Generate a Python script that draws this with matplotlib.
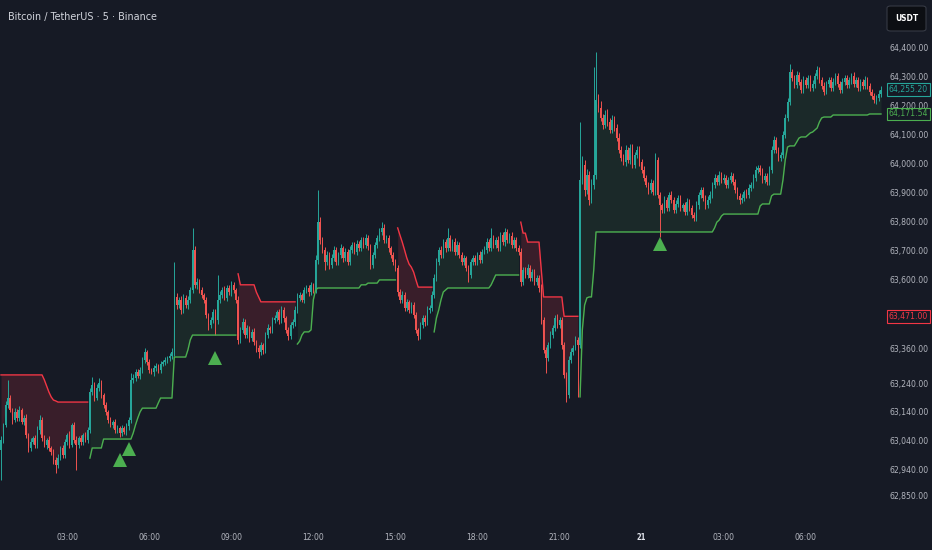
import numpy as np
import pandas as pd
import matplotlib
matplotlib.use("Agg")
import matplotlib.pyplot as plt
from matplotlib import font_manager as fm
from matplotlib.patches import FancyBboxPatch
import matplotlib.transforms as mtransforms

# ---------------- data ----------------
title = "Bitcoin / TetherUS · 5 · Binance"
currency = "USDT"
start_time = "2024-06-20 00:35"
first_open = 63008.0

closes = [
    63043, 63095, 63164, 63188, 63147, 63112, 63140, 63119, 63147, 63105, 63119, 63060, 63015, 63036, 63050, 63025, 63077, 63112, 63050, 63025,
    63043, 63015, 63001, 62974, 62956, 62980, 63015, 62991, 63036, 63060, 63025, 63095, 63043, 63025, 63050, 63036, 63060, 63043, 63077, 63209,
    63233, 63188, 63223, 63240, 63199, 63164, 63140, 63112, 63095, 63105, 63077, 63084, 63067, 63084, 63070, 63091, 63112, 63251, 63258, 63278,
    63265, 63285, 63320, 63348, 63313, 63285, 63278, 63292, 63299, 63285, 63306, 63313, 63320, 63327, 63334, 63348, 63538, 63510, 63528, 63493,
    63535, 63510, 63528, 63562, 63701, 63580, 63590, 63562, 63545, 63528, 63476, 63441, 63458, 63486, 63458, 63528, 63545, 63562, 63535, 63569,
    63555, 63580, 63562, 63528, 63389, 63424, 63451, 63406, 63430, 63396, 63417, 63382, 63362, 63348, 63372, 63355, 63406, 63430, 63424, 63458,
    63465, 63486, 63458, 63493, 63465, 63424, 63403, 63441, 63451, 63493, 63535, 63545, 63528, 63562, 63569, 63555, 63580, 63562, 63666, 63797,
    63735, 63701, 63659, 63683, 63649, 63673, 63701, 63659, 63683, 63707, 63673, 63694, 63659, 63701, 63718, 63694, 63721, 63707, 63735, 63718,
    63742, 63714, 63649, 63683, 63718, 63742, 63763, 63777, 63735, 63742, 63707, 63683, 63659, 63638, 63555, 63528, 63545, 63500, 63521, 63493,
    63510, 63476, 63424, 63403, 63441, 63465, 63451, 63493, 63500, 63545, 63604, 63659, 63701, 63683, 63728, 63707, 63742, 63707, 63728, 63694,
    63718, 63683, 63659, 63673, 63638, 63614, 63659, 63673, 63659, 63683, 63666, 63694, 63701, 63728, 63707, 63742, 63718, 63735, 63707, 63752,
    63728, 63763, 63735, 63749, 63718, 63735, 63707, 63694, 63590, 63631, 63614, 63638, 63604, 63624, 63590, 63604, 63569, 63458, 63355, 63327,
    63372, 63406, 63430, 63465, 63441, 63458, 63372, 63268, 63199, 63320, 63348, 63362, 63389, 63372, 63943, 63995, 63908, 63960, 63874, 63926,
    63960, 64220, 64192, 64158, 64133, 64168, 64144, 64116, 64151, 64123, 64088, 64047, 64019, 64005, 64047, 64012, 64054, 63995, 64029, 64047,
    64005, 63978, 63950, 63926, 63908, 63933, 63901, 64012, 63891, 63856, 63839, 63874, 63846, 63891, 63874, 63839, 63860, 63881, 63846, 63856,
    63832, 63867, 63846, 63822, 63811, 63856, 63891, 63908, 63881, 63856, 63874, 63891, 63926, 63950, 63936, 63960, 63943, 63950, 63926, 63943,
    63957, 63936, 63908, 63888, 63874, 63881, 63901, 63891, 63915, 63926, 63950, 63978, 63985, 63971, 63943, 63957, 63936, 63978, 64047, 64081,
    64047, 64019, 64029, 64099, 64158, 64213, 64317, 64296, 64272, 64307, 64282, 64255, 64289, 64272, 64296, 64262, 64275, 64303, 64324, 64289,
    64268, 64248, 64275, 64289, 64262, 64282, 64303, 64275, 64255, 64282, 64296, 64272, 64289, 64303, 64275, 64289, 64262, 64282, 64268, 64289,
    64268, 64248, 64234, 64220, 64227, 64241, 64255.2,
]

upper_wick = [
    12, 8, 15, 63, 10, 6, 14, 9, 12, 7, 10, 15, 8, 12, 6, 10, 14, 17, 9, 11,
    8, 12, 6, 10, 9, 14, 7, 11, 10, 8, 13, 6, 9, 12, 8, 10, 7, 11, 9, 14,
    28, 10, 12, 18, 9, 7, 11, 8, 10, 6, 9, 12, 7, 10, 8, 11, 9, 24, 12, 10,
    9, 12, 11, 14, 8, 10, 7, 9, 12, 6, 10, 8, 9, 7, 11, 12, 121, 15, 10, 12,
    14, 9, 12, 10, 76, 15, 12, 9, 11, 8, 10, 7, 12, 9, 10, 86, 12, 10, 14, 9,
    11, 13, 9, 8, 12, 10, 14, 9, 11, 7, 10, 12, 8, 9, 11, 7, 10, 13, 9, 12,
    10, 8, 12, 14, 9, 7, 10, 11, 9, 12, 15, 10, 8, 12, 9, 11, 10, 8, 16, 111,
    18, 12, 9, 14, 10, 12, 15, 9, 11, 13, 8, 12, 10, 14, 9, 11, 13, 10, 12, 9,
    14, 10, 8, 12, 11, 10, 13, 20, 12, 9, 10, 8, 11, 9, 12, 10, 14, 9, 11, 8,
    10, 12, 9, 8, 11, 10, 9, 12, 10, 14, 12, 15, 10, 13, 11, 9, 35, 12, 10, 14,
    12, 9, 11, 10, 8, 9, 12, 10, 11, 9, 13, 10, 12, 14, 11, 35, 12, 10, 13, 11,
    12, 14, 10, 11, 13, 9, 12, 10, 15, 12, 10, 13, 9, 11, 12, 10, 9, 14, 12, 10,
    11, 14, 12, 10, 13, 9, 12, 10, 11, 14, 12, 10, 13, 12, 201, 30, 18, 22, 15, 20,
    374, 166, 20, 25, 15, 18, 22, 14, 16, 12, 15, 18, 12, 14, 16, 11, 13, 15, 12, 14,
    12, 10, 14, 11, 9, 13, 10, 25, 12, 10, 9, 12, 11, 10, 13, 9, 12, 10, 11, 9,
    10, 12, 9, 11, 10, 13, 12, 10, 11, 9, 12, 14, 10, 12, 11, 13, 10, 12, 9, 11,
    12, 10, 9, 11, 10, 12, 9, 11, 13, 10, 12, 14, 11, 10, 12, 9, 11, 13, 15, 14,
    12, 10, 11, 14, 12, 15, 28, 12, 10, 14, 11, 9, 13, 10, 12, 11, 14, 10, 12, 9,
    11, 13, 10, 12, 9, 14, 11, 10, 12, 13, 10, 9, 12, 11, 14, 10, 12, 9, 11, 13,
    10, 12, 9, 11, 10, 12, 14,
]

lower_wick = [
    104, 10, 8, 12, 9, 14, 7, 11, 10, 8, 12, 9, 14, 10, 8, 11, 9, 12, 10, 8,
    12, 9, 11, 14, 28, 10, 8, 12, 9, 11, 10, 8, 12, 86, 9, 11, 10, 8, 12, 10,
    9, 11, 8, 10, 12, 9, 11, 10, 8, 12, 10, 9, 14, 11, 8, 10, 12, 9, 11, 10,
    8, 10, 12, 9, 11, 10, 8, 12, 9, 10, 11, 8, 10, 9, 12, 10, 14, 12, 10, 15,
    12, 10, 14, 11, 12, 10, 13, 9, 11, 12, 10, 17, 12, 10, 52, 12, 10, 11, 9, 12,
    10, 12, 9, 11, 14, 10, 12, 9, 11, 13, 10, 12, 14, 21, 11, 13, 10, 9, 12, 10,
    11, 9, 12, 10, 13, 11, 14, 10, 9, 12, 10, 11, 9, 12, 10, 13, 9, 11, 12, 14,
    12, 10, 28, 11, 13, 10, 9, 12, 11, 10, 13, 9, 12, 10, 11, 9, 12, 10, 11, 9,
    10, 12, 14, 11, 9, 10, 12, 9, 11, 10, 12, 9, 11, 10, 13, 12, 10, 11, 9, 12,
    10, 11, 12, 14, 10, 9, 12, 11, 10, 9, 12, 10, 9, 11, 10, 12, 9, 11, 10, 12,
    11, 9, 12, 10, 11, 24, 10, 12, 9, 11, 10, 12, 9, 10, 11, 9, 12, 10, 11, 9,
    10, 12, 9, 11, 10, 12, 9, 11, 13, 10, 12, 9, 11, 10, 12, 9, 14, 12, 10, 52,
    12, 10, 11, 9, 12, 10, 14, 12, 25, 10, 12, 11, 9, 180, 12, 15, 20, 14, 18, 12,
    15, 12, 14, 10, 12, 11, 13, 10, 12, 11, 9, 12, 10, 11, 13, 10, 12, 9, 11, 10,
    12, 10, 11, 9, 12, 10, 11, 9, 12, 111, 10, 12, 9, 11, 10, 12, 9, 11, 10, 12,
    11, 9, 12, 10, 11, 9, 12, 10, 11, 13, 10, 12, 9, 11, 10, 12, 9, 11, 10, 12,
    10, 12, 9, 11, 13, 10, 12, 9, 11, 10, 12, 9, 11, 10, 12, 9, 11, 10, 12, 11,
    10, 12, 9, 11, 10, 12, 9, 11, 10, 12, 9, 11, 10, 12, 9, 11, 10, 12, 9, 11,
    10, 12, 9, 11, 10, 12, 9, 11, 10, 12, 9, 11, 10, 12, 9, 11, 10, 12, 9, 11,
    10, 12, 9, 11, 14, 10, 12,
]

# trailing stop line: (level, number of bars)
stop_levels = [
    63268, 63251, 63230, 63209, 63192, 63181, 63178, 63174,
    62980, 63015, 63046, 63067, 63095, 63119, 63140, 63153, 63171, 63188, 63330, 63355, 63389, 63406,
    63618, 63580, 63555, 63538, 63521,
    63375, 63385, 63406, 63417, 63424, 63528, 63562, 63569, 63580, 63586, 63597,
    63777, 63752, 63728, 63701, 63673, 63652, 63641, 63624, 63597, 63572,
    63417, 63465, 63493, 63528, 63555, 63562, 63569, 63580, 63597, 63614,
    63797, 63759, 63728, 63631, 63538, 63471,
    63192, 63424, 63510, 63535, 63538, 63631, 63763, 63777, 63797, 63804, 63818, 63825, 63853, 63860,
    63888, 63894, 63943, 64012, 64057, 64061, 64074, 64088, 64092, 64099, 64106, 64109, 64116, 64123,
    64144, 64158, 64161, 64168, 64171.54,
]
stop_counts = [
    19, 1, 1, 1, 1, 1, 1, 14,
    1, 5, 13, 1, 1, 1, 1, 7, 1, 6, 6, 1, 1, 20,
    1, 7, 1, 1, 16,
    1, 1, 1, 3, 1, 1, 1, 19, 3, 5, 8,
    1, 1, 1, 1, 1, 1, 1, 1, 1, 7,
    1, 1, 1, 1, 1, 1, 19, 1, 1, 11,
    1, 2, 6, 1, 9, 7,
    1, 1, 1, 1, 2, 1, 52, 1, 1, 1, 1, 16, 1, 4,
    1, 4, 1, 1, 1, 3, 1, 1, 3, 1, 1, 1, 1, 1,
    1, 1, 4, 16, 6,
]
trend_dirs = [-1, 1, -1, 1, -1, 1, -1, 1]
trend_counts = [39, 65, 26, 44, 16, 38, 26, 133]

signal_bars = [52, 56, 94, 289]
signal_prices = [62974, 63012, 63327, 63721]

price_ticks = [64400, 64300, 64200, 64100, 64000, 63900, 63800, 63700, 63600,
               63360, 63240, 63140, 63040, 62940, 62850]
last_price = 64255.20
long_stop_label = 64171.54
short_stop_label = 63471.00

# ---------------- derived ----------------
closes = np.array(closes, dtype=float)
n = len(closes)
opens = np.concatenate([[first_open], closes[:-1]])
highs = np.maximum(opens, closes) + np.array(upper_wick, dtype=float)
lows = np.minimum(opens, closes) - np.array(lower_wick, dtype=float)
stop = np.repeat(np.array(stop_levels, dtype=float), stop_counts)
x = np.arange(n)
times = pd.date_range(start_time, periods=n, freq="5min")

BG = "#161a25"
UP = "#26a69a"
DOWN = "#ef5350"
RED_LINE = "#f23645"
GREEN_LINE = "#4caf50"
TXT = "#b2b5be"

W, H = 932, 550
fig = plt.figure(figsize=(W / 100, H / 100), dpi=100, facecolor=BG)
ax = fig.add_axes([0, 32 / H, 886 / W, 518 / H], facecolor=BG)


# ---- narrow font selection (TradingView UI font is condensed) ----
def pick_font():
    fl = fm.fontManager.ttflist
    names = {f.name for f in fl}
    if "Liberation Sans Narrow" in names:
        return {"family": "Liberation Sans Narrow"}
    if any(f.name == "DejaVu Sans" and "condensed" in f.fname.lower() for f in fl):
        return {"family": "DejaVu Sans", "stretch": "condensed"}
    if "Liberation Sans" in names:
        return {"family": "Liberation Sans"}
    return {"family": "DejaVu Sans"}


FONT = pick_font()
renderer = fig.canvas.get_renderer()


def fitted(text, target_px, weight="normal", cap=10.0):
    probe = fig.text(0, 0, text, fontproperties=fm.FontProperties(size=10, weight=weight, **FONT))
    w = probe.get_window_extent(renderer).width
    probe.remove()
    return fm.FontProperties(size=min(cap, 10 * target_px / w), weight=weight, **FONT)


fp_price = fitted("64,400.00", 39.5)
fp_time = fitted("03:00", 22)
fp_day = fitted("21", 9.5, weight="bold")
fp_title = fitted(title, 150)
fp_btn = fitted(currency, 23, weight="bold")

# fills and stop line
start = 0
for d, c in zip(trend_dirs, trend_counts):
    sl = slice(start, start + c)
    col = GREEN_LINE if d > 0 else RED_LINE
    ax.fill_between(x[sl], stop[sl], closes[sl], color=col,
                    alpha=0.10 if d > 0 else 0.16, linewidth=0, zorder=1)
    ax.plot(x[sl], stop[sl], color=col, linewidth=1.0, zorder=4)
    start += c

# candles
up = closes >= opens
colors = np.where(up, UP, DOWN)
ax.vlines(x, lows, highs, colors=colors, linewidth=0.7, zorder=2)
body_h = np.maximum(np.abs(closes - opens), 2.0)
ax.bar(x, body_h, bottom=np.minimum(opens, closes), width=0.66,
       color=colors, linewidth=0, zorder=3)

# buy signals
ax.plot(signal_bars, signal_prices, linestyle="none", marker="^",
        markersize=9.5, color=GREEN_LINE, markeredgewidth=0, zorder=5)

ax.set_xlim(-0.44, 388.2)
ax.set_ylim(62772.6, 64566.2)

for s in ax.spines.values():
    s.set_visible(False)

# y axis on right
ax.yaxis.tick_right()
ax.set_yticks(price_ticks)
ax.set_yticklabels([f"{v:,.2f}" for v in price_ticks])
ax.tick_params(axis="y", length=0, pad=2.5, labelcolor=TXT)
for t in ax.get_yticklabels():
    t.set_fontproperties(fp_price)

# x axis: every 3 hours
tick_idx = [i for i, t in enumerate(times) if t.minute == 0 and t.hour % 3 == 0]
tick_lab = [str(times[i].day) if times[i].hour == 0 else times[i].strftime("%H:%M")
            for i in tick_idx]
ax.set_xticks(tick_idx)
ax.set_xticklabels(tick_lab)
ax.tick_params(axis="x", length=0, pad=10.5, labelcolor=TXT)
for t, lab in zip(ax.get_xticklabels(), tick_lab):
    if lab.isdigit():
        t.set_fontproperties(fp_day)
        t.set_color("#e0e3eb")
    else:
        t.set_fontproperties(fp_time)

# price label boxes on the axis
trans = mtransforms.blended_transform_factory(fig.transFigure, ax.transData)
for val, col in [(last_price, UP), (long_stop_label, GREEN_LINE), (short_stop_label, RED_LINE)]:
    fig.text(888.5 / W, val, f"{val:,.2f}", transform=trans, ha="left", va="center",
             fontproperties=fp_price, color=col, zorder=10,
             bbox=dict(boxstyle="square,pad=0.22", facecolor=BG, edgecolor=col, linewidth=0.8))

# title
fig.text(8 / W, 1 - 17 / H, title, color="#d1d4dc", fontproperties=fp_title,
         ha="left", va="center")

# currency button
btn = FancyBboxPatch((887 / W, 1 - 31 / H), 39 / W, 25 / H,
                     boxstyle="round,pad=0,rounding_size=0.004",
                     transform=fig.transFigure, facecolor="#0c0e13",
                     edgecolor="#363a45", linewidth=0.8)
fig.patches.append(btn)
fig.text(906.5 / W, 1 - 18.5 / H, currency, color="#ffffff", fontproperties=fp_btn,
         ha="center", va="center")

fig.savefig("out.png", dpi=100, facecolor=BG)
